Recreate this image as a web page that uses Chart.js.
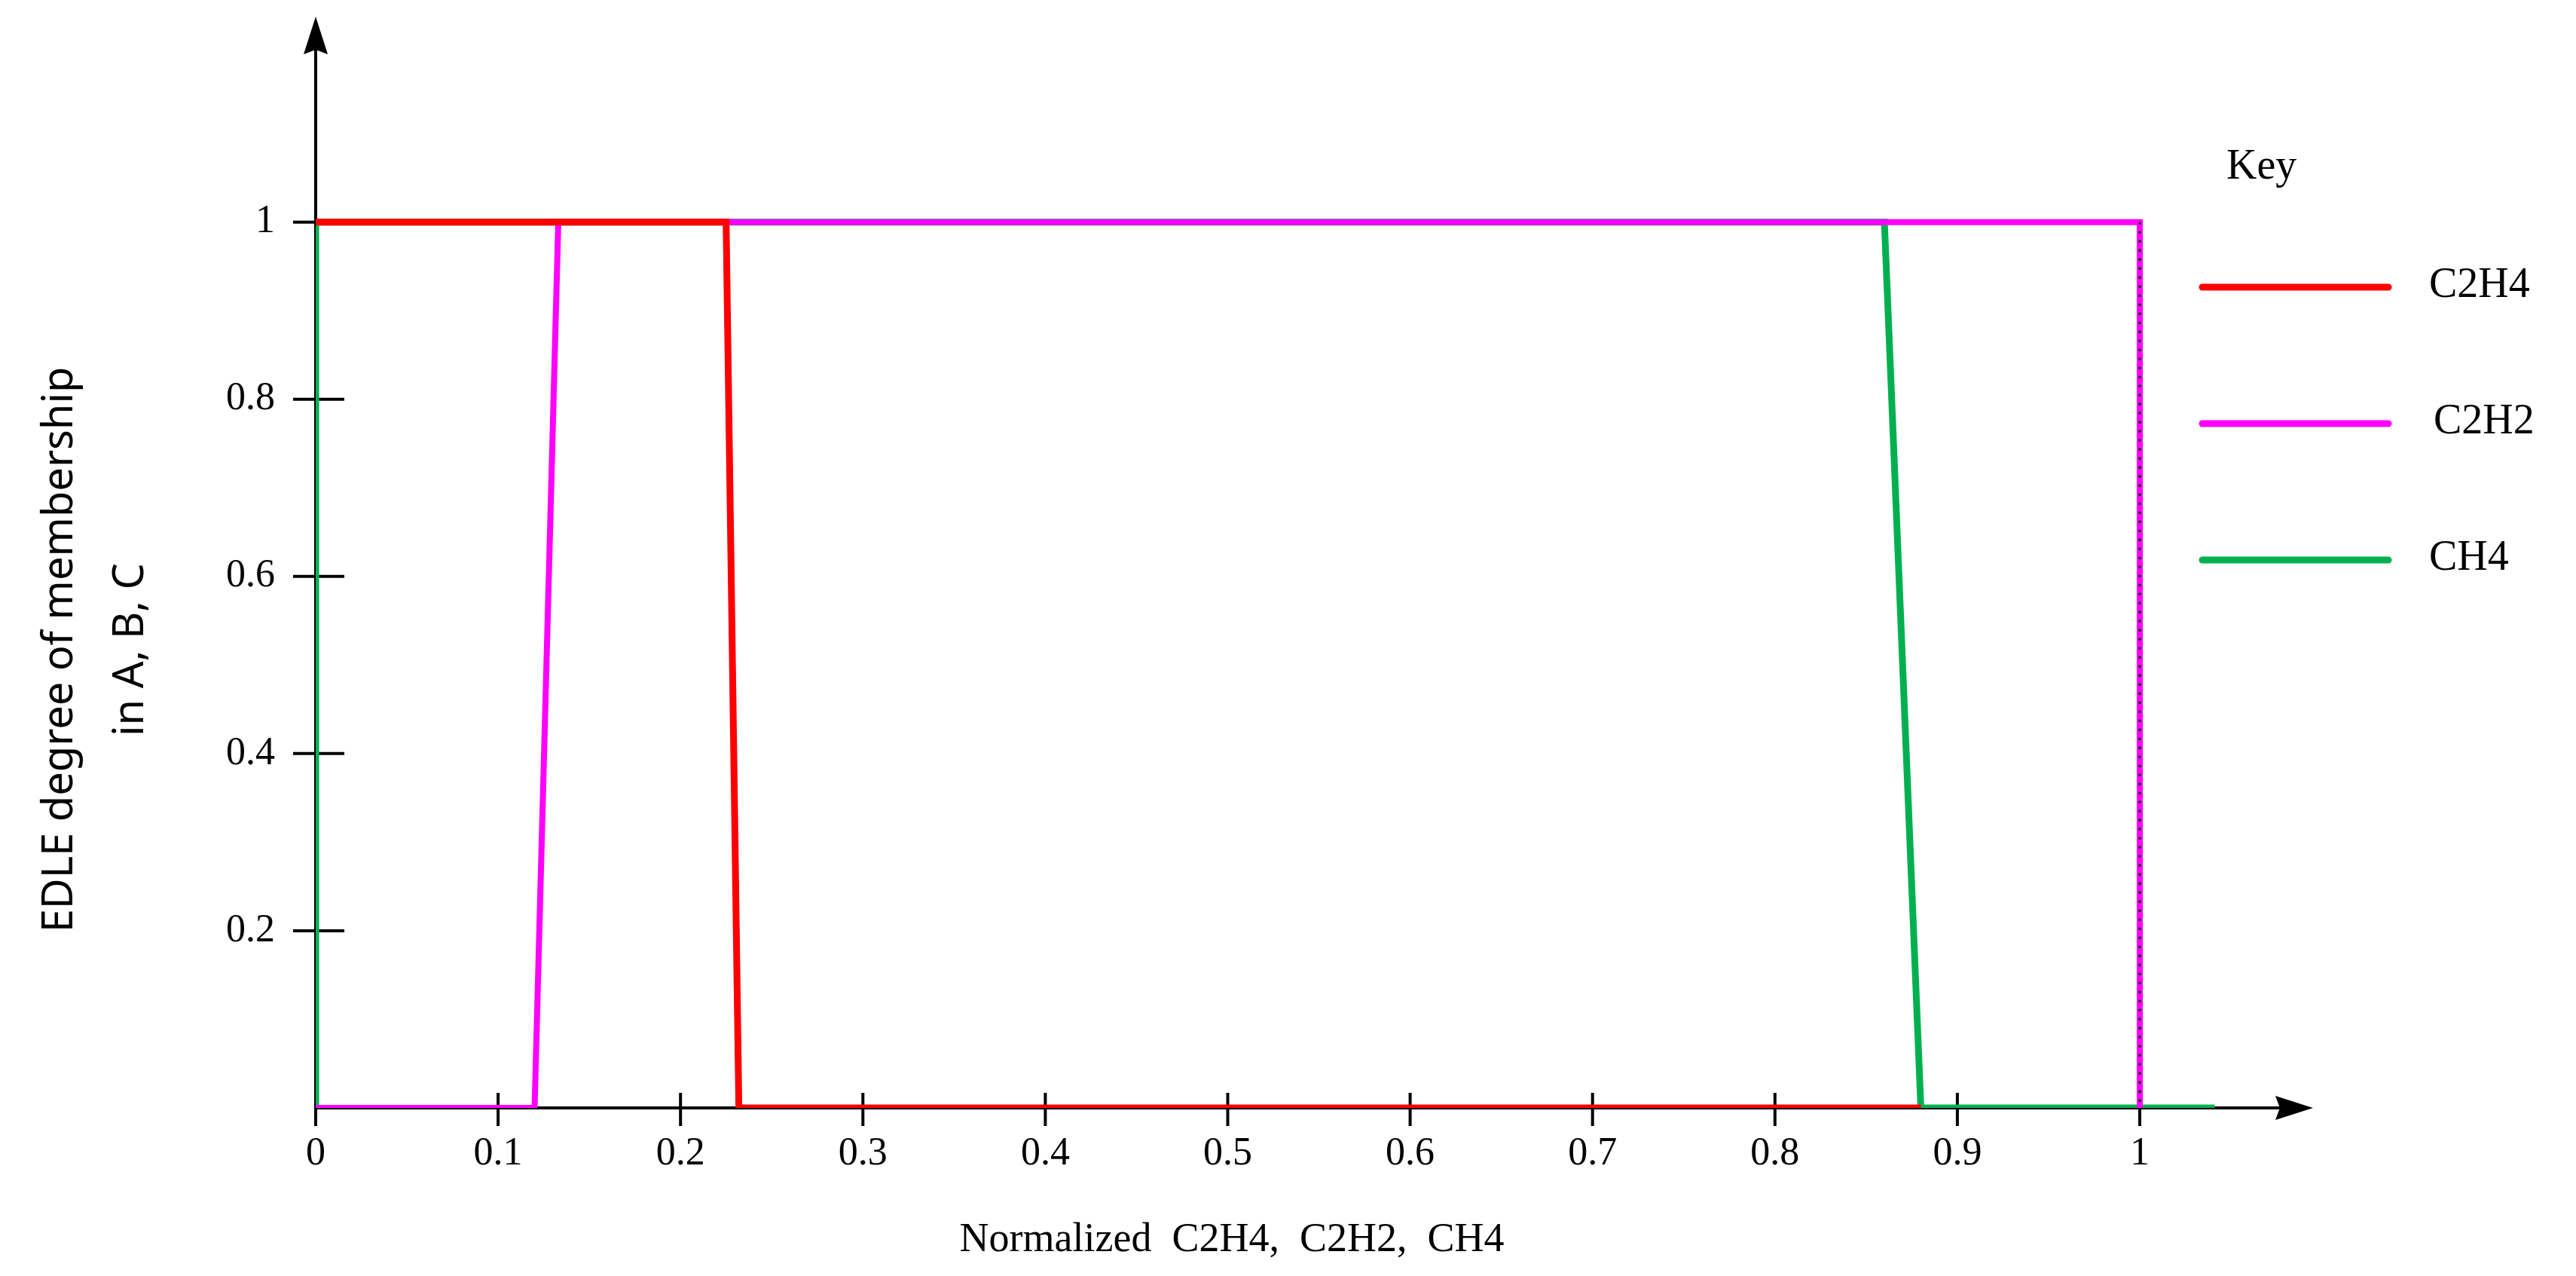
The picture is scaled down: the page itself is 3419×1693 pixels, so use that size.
<!DOCTYPE html>
<html>
<head>
<meta charset="utf-8">
<script src="https://cdn.jsdelivr.net/npm/chart.js@4/dist/chart.umd.min.js"></script>
<style>
  html, body { margin: 0; padding: 0; background: #fff; }
  #wrap { width: 3419px; height: 1693px; }
</style>
</head>
<body>
<div id="wrap"><canvas id="myChart" width="3419" height="1693"></canvas></div>
<script>
// membership function breakpoints
const ch4X = [0, 0, 0.86, 0.88, 1.041];
const ch4Y = [0, 1, 1, 0, 0];
const c2h2X = [0, 0.12, 0.133, 1, 1];
const c2h2Y = [0, 0, 1, 1, 0];
const c2h4X = [0, 0.225, 0.232, 0.88];
const c2h4Y = [1, 1, 0, 0];
const xTicks = [0, 0.1, 0.2, 0.3, 0.4, 0.5, 0.6, 0.7, 0.8, 0.9, 1];
const yTicks = [0.2, 0.4, 0.6, 0.8, 1];
const keyLabels = ['C2H4', 'C2H2', 'CH4'];
const keyColors = ['#ff0000', '#ff00ff', '#00b050'];

const toPts = (xs, ys) => xs.map((x, i) => ({x: x, y: ys[i]}));
const serif = '"Liberation Serif", "DejaVu Serif", serif';

const axesPlugin = {
  id: 'axesPlugin',
  afterDatasetsDraw(chart) {
    const {ctx, scales: {x, y}} = chart;
    const x0 = x.getPixelForValue(0), y0 = y.getPixelForValue(0);
    const xEnd = x.right, yTop = 22;
    ctx.save();
    ctx.strokeStyle = '#000';
    ctx.fillStyle = '#000';
    ctx.lineWidth = 4;
    ctx.globalCompositeOperation = 'destination-over';
    ctx.beginPath();
    ctx.moveTo(x0, y0); ctx.lineTo(xEnd - 40, y0);
    ctx.moveTo(x0, y0); ctx.lineTo(x0, yTop + 40);
    ctx.stroke();
    xTicks.forEach(v => {
      const px = x.getPixelForValue(v);
      ctx.beginPath(); ctx.moveTo(px, y0 - 20); ctx.lineTo(px, y0 + 24); ctx.stroke();
    });
    yTicks.forEach(v => {
      const py = y.getPixelForValue(v);
      ctx.beginPath(); ctx.moveTo(x0 - 30, py); ctx.lineTo(x0 + 38, py); ctx.stroke();
    });
    ctx.globalCompositeOperation = 'source-over';
    // arrow heads
    ctx.beginPath();
    ctx.moveTo(xEnd, y0); ctx.lineTo(xEnd - 50, y0 - 16); ctx.lineTo(xEnd - 44, y0); ctx.lineTo(xEnd - 50, y0 + 16);
    ctx.closePath(); ctx.fill();
    ctx.beginPath();
    ctx.moveTo(x0, yTop); ctx.lineTo(x0 - 16, yTop + 50); ctx.lineTo(x0, yTop + 44); ctx.lineTo(x0 + 16, yTop + 50);
    ctx.closePath(); ctx.fill();

    // dotted black overlay on the C2H2 drop at x = 1
    const p1 = x.getPixelForValue(1);
    ctx.setLineDash([3, 9]);
    ctx.lineWidth = 3;
    ctx.beginPath(); ctx.moveTo(p1, y.getPixelForValue(1)); ctx.lineTo(p1, y0); ctx.stroke();
    ctx.setLineDash([]);

    // key
    ctx.font = '56px ' + serif;
    ctx.textBaseline = 'middle';
    ctx.fillText('Key', 2955, 222);
    keyLabels.forEach((lab, i) => {
      const ly = 381 + i * 181;
      ctx.strokeStyle = keyColors[i];
      ctx.lineWidth = 9;
      ctx.lineCap = 'round';
      ctx.beginPath(); ctx.moveTo(2923, ly); ctx.lineTo(3170, ly); ctx.stroke();
      ctx.fillText(lab, i === 1 ? 3230 : 3224, ly - 2);
    });

    // axis titles
    ctx.font = '56px "Noto Sans", "Open Sans", sans-serif';
    ctx.textAlign = 'center';
    ctx.save();
    ctx.translate(80, 862); ctx.rotate(-Math.PI / 2);
    ctx.fillText('EDLE degree of membership', 0, 0);
    ctx.restore();
    ctx.save();
    ctx.translate(174, 862); ctx.rotate(-Math.PI / 2);
    ctx.fillText('in A, B, C', 0, 0);
    ctx.restore();
    ctx.font = '54px ' + serif;
    ctx.fillText('Normalized  C2H4,  C2H2,  CH4', 1635, 1646);
    ctx.restore();
  }
};

document.addEventListener('DOMContentLoaded', function() {
  const ctx = document.getElementById('myChart');
  new Chart(ctx, {
    type: 'line',
    data: {
      datasets: [
        { label: 'CH4', data: toPts(ch4X, ch4Y), borderColor: '#00b050', borderWidth: 9, order: 3 },
        { label: 'C2H2', data: toPts(c2h2X, c2h2Y), borderColor: '#ff00ff', borderWidth: 8, order: 2 },
        { label: 'C2H4', data: toPts(c2h4X, c2h4Y), borderColor: '#ff0000', borderWidth: 9, order: 1 }
      ]
    },
    options: {
      responsive: false,
      animation: false,
      devicePixelRatio: 1,
      elements: { point: { radius: 0 }, line: { tension: 0, borderJoinStyle: 'miter' } },
      layout: { padding: { top: 0, right: 349, left: 0, bottom: 0 } },
      plugins: { legend: { display: false }, tooltip: { enabled: false } },
      scales: {
        x: {
          type: 'linear', min: 0, max: 1.095,
          grid: { display: false }, border: { display: false },
          afterFit: s => { s.height = 223; },
          afterBuildTicks: s => { s.ticks = xTicks.map(v => ({value: v})); },
          ticks: { color: '#000', font: { family: serif, size: 52 }, padding: 22, maxRotation: 0,
                   callback: v => String(+v.toFixed(1)) }
        },
        y: {
          type: 'linear', min: 0, max: 1.185,
          grid: { display: false }, border: { display: false },
          afterFit: s => { s.width = 419; },
          afterBuildTicks: s => { s.ticks = yTicks.map(v => ({value: v})); },
          ticks: { color: '#000', font: { family: serif, size: 52 }, padding: 46,
                   callback: v => String(+v.toFixed(1)) }
        }
      }
    },
    plugins: [axesPlugin]
  });
});
</script>
</body>
</html>
